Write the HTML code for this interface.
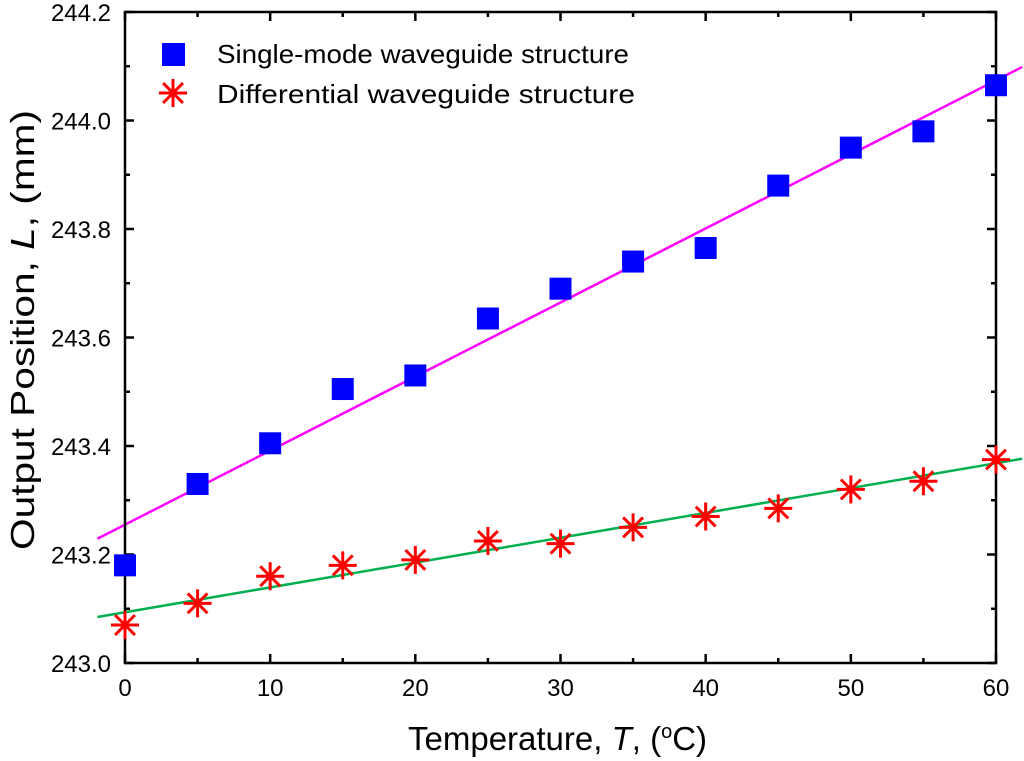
<!DOCTYPE html>
<html><head><meta charset="utf-8"><style>
body{margin:0;background:#fff;}
svg{display:block;font-family:"Liberation Sans",Arial,sans-serif;}
</style></head><body>
<svg id="chart" width="1024" height="761" viewBox="0 0 1024 761">
</svg>
<script>
const temps=[0,5,10,15,20,25,30,35,40,45,50,55,60];
const singleMode=[243.18,243.33,243.405,243.505,243.53,243.635,243.69,243.74,243.765,243.88,243.95,243.98,244.065];
const differential=[243.07,243.11,243.16,243.18,243.19,243.225,243.22,243.25,243.27,243.285,243.32,243.335,243.375];
const singleFit=[243.255,0.01365];
const diffFit=[243.0935,0.00458];
const xTicks=[0,10,20,30,40,50,60];
const yTicks=[243.0,243.2,243.4,243.6,243.8,244.0,244.2];
const L=125,R=996,T=12,B=663;
const xs=v=>L+(v-0)/(60)*(R-L);
const ys=v=>B-(v-243.0)/1.2*(B-T);
const NS="http://www.w3.org/2000/svg";
const svg=document.getElementById('chart');
function mk(tag,at,parent){const e=document.createElementNS(NS,tag);for(const k in at)e.setAttribute(k,at[k]);(parent||svg).appendChild(e);return e;}
function fit(p,x0,x1,col,name){const l=mk('line',{x1:xs(x0),y1:ys(p[0]+p[1]*x0),x2:xs(x1),y2:ys(p[0]+p[1]*x1),stroke:col,'stroke-width':2.5});

}
fit(singleFit,-1.9,61.8,'#ff00ff','single-mode-fit-line');
fit(diffFit,-1.9,61.8,'#00b050','differential-fit-line');
const fr=mk('rect',{x:L,y:T,width:R-L,height:B-T,fill:'none',stroke:'#000','stroke-width':2.5});


for(let v=0;v<=60;v+=5){const x=xs(v),len=v%10===0?9:5;
mk('line',{x1:x,y1:B,x2:x,y2:B-len,stroke:'#000','stroke-width':2.5});
mk('line',{x1:x,y1:T,x2:x,y2:T+len,stroke:'#000','stroke-width':2.5});}
for(let i=0;i<=12;i++){const v=243+i*0.1,y=ys(v),len=i%2===0?9:5;
mk('line',{x1:L,y1:y,x2:L+len,y2:y,stroke:'#000','stroke-width':2.5});
mk('line',{x1:R,y1:y,x2:R-len,y2:y,stroke:'#000','stroke-width':2.5});}
xTicks.forEach(v=>{const t=mk('text',{x:xs(v),y:B+33,'text-anchor':'middle','font-size':24});t.textContent=v;

});
yTicks.forEach(v=>{const t=mk('text',{x:111,y:ys(v)+9,'text-anchor':'end','font-size':24});t.textContent=v.toFixed(1);

});
function star(cx,cy,r,parent){const g=mk('g',{stroke:'#ff0000','stroke-width':3},parent);
for(let k=0;k<4;k++){const a=k*Math.PI/4;mk('line',{x1:cx-r*Math.cos(a),y1:cy-r*Math.sin(a),x2:cx+r*Math.cos(a),y2:cy+r*Math.sin(a)},g);}return g;}
temps.forEach((t,i)=>{const s=mk('rect',{x:xs(t)-11,y:ys(singleMode[i])-11,width:22,height:22,fill:'#0000ff'});


const g=star(xs(t),ys(differential[i]),14);

});
const lg=mk('g',{});


mk('rect',{x:162,y:43,width:23,height:23,fill:'#0000ff'},lg);
star(173,93,14,lg);
const t1=mk('text',{x:217,y:63,'font-size':26,textLength:412,lengthAdjust:'spacingAndGlyphs'},lg);t1.textContent='Single-mode waveguide structure';
const t2=mk('text',{x:217,y:103,'font-size':26,textLength:418,lengthAdjust:'spacingAndGlyphs'},lg);t2.textContent='Differential waveguide structure';
const xt=mk('text',{x:408,y:750,'font-size':33});


xt.innerHTML='Temperature, <tspan font-style="italic">T</tspan>, (<tspan dy="-12" font-size="20">o</tspan><tspan dy="12">C)</tspan>';
const yt=mk('text',{x:0,y:0,'text-anchor':'middle','font-size':33,textLength:440,lengthAdjust:'spacingAndGlyphs',transform:'translate(34,330) rotate(-90)'});


yt.innerHTML='Output Position, <tspan font-style="italic">L</tspan>, (mm)';
</script>
</body></html>
